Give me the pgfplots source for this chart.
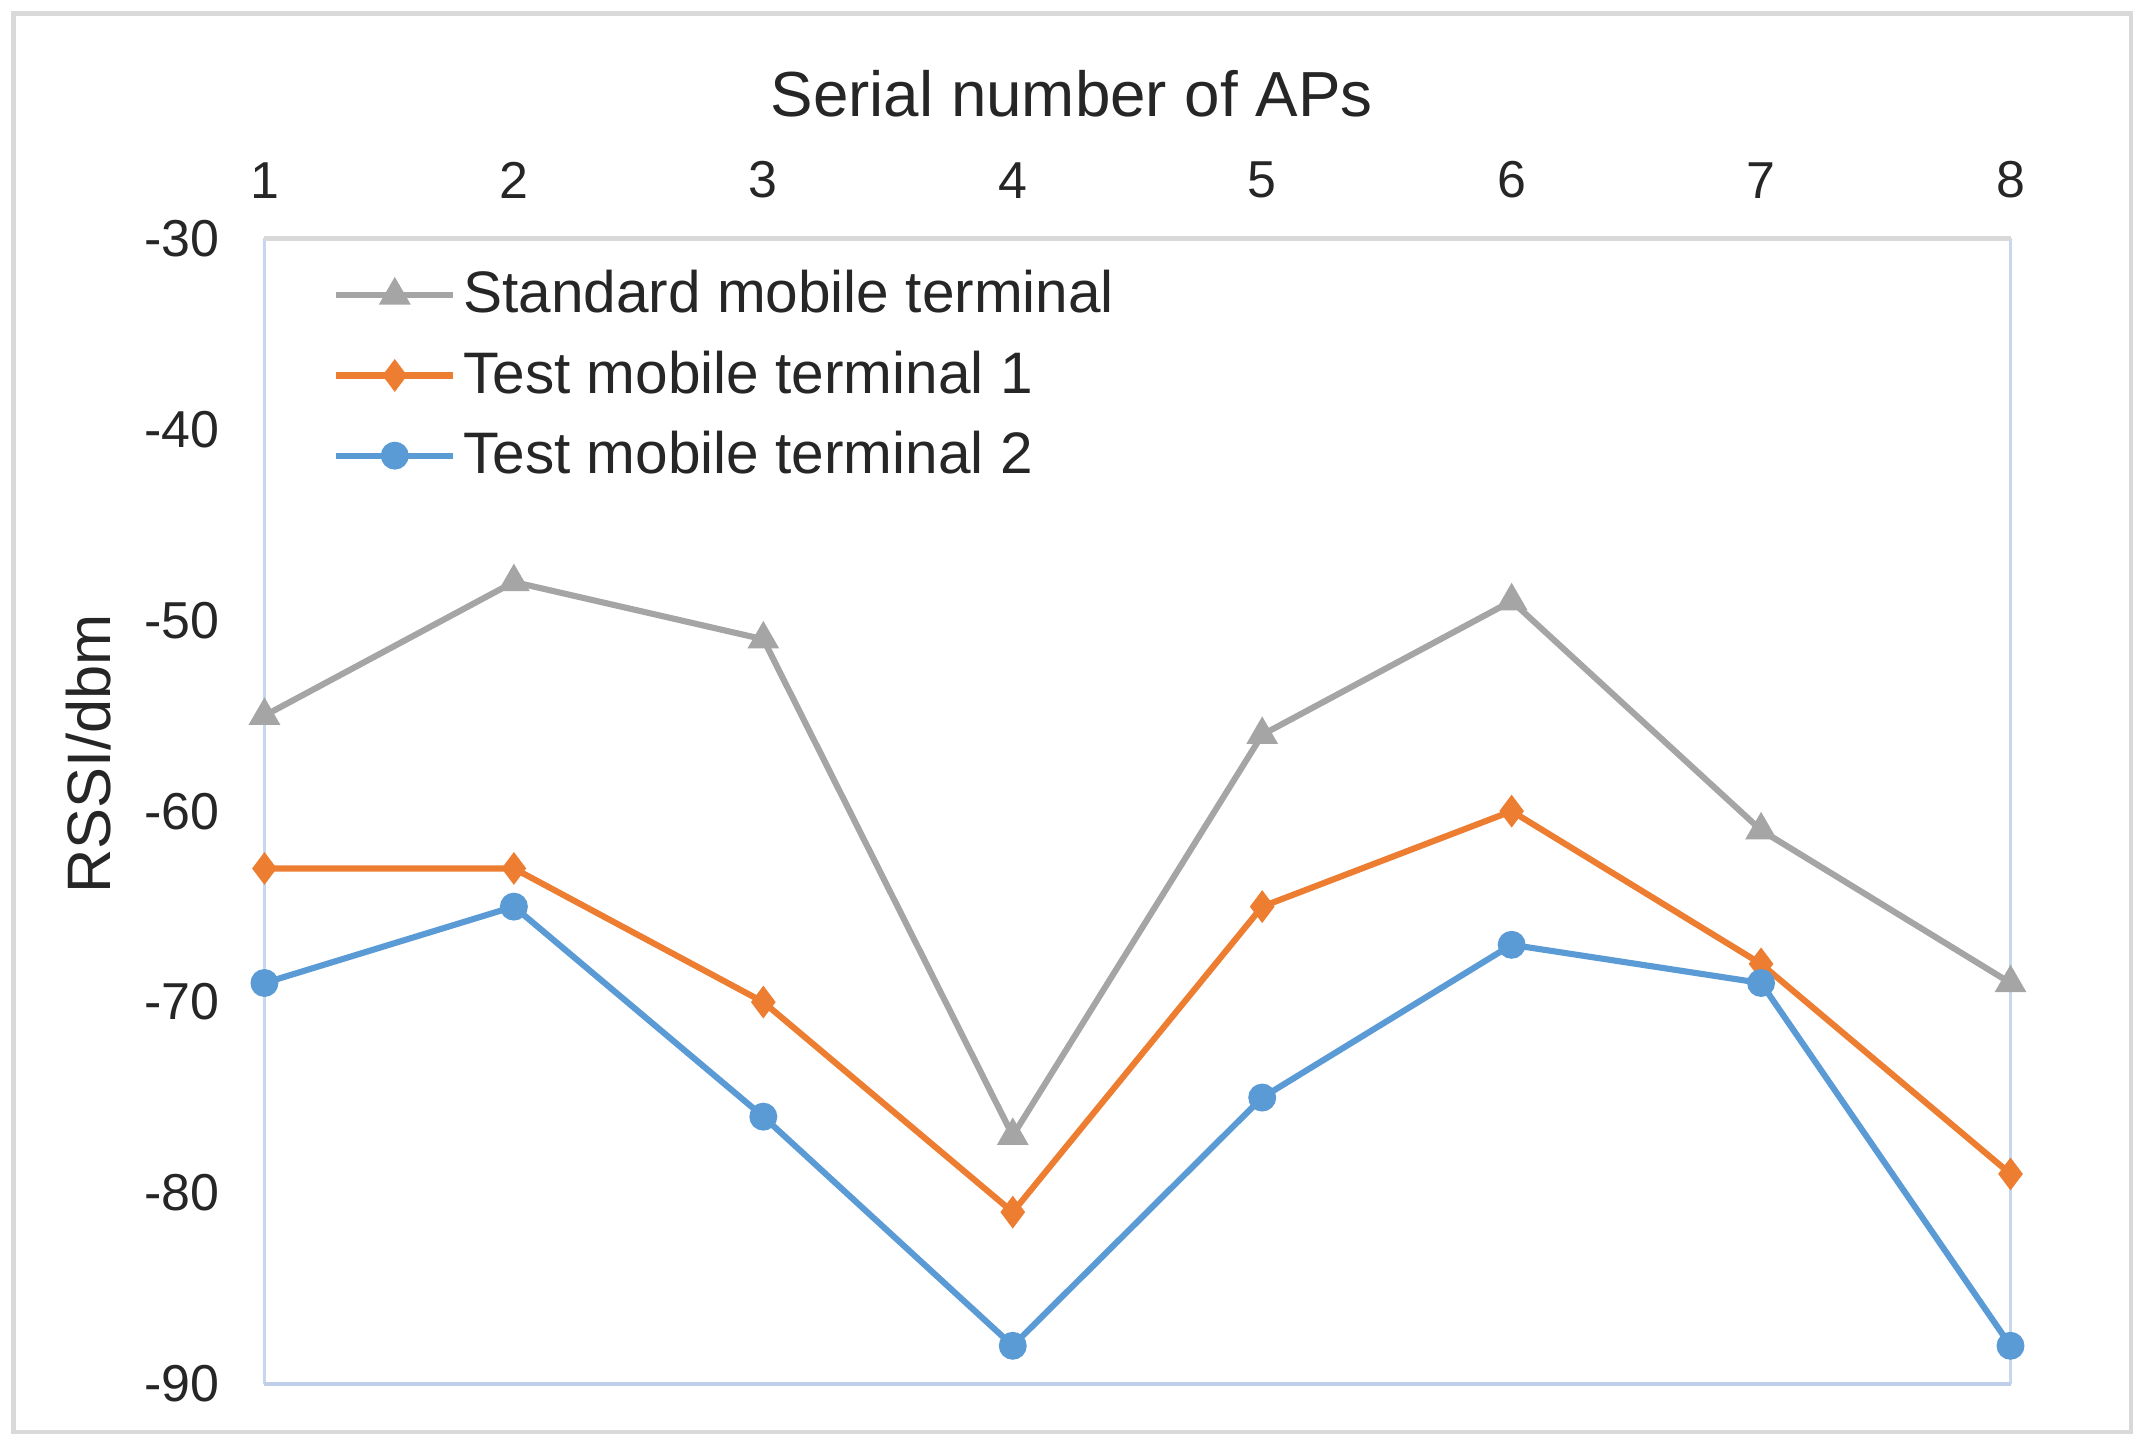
\documentclass[border=0pt]{standalone}
\usepackage{fontspec}
\setmainfont{Liberation Sans}
\usepackage{pgfplots}
\pgfplotsset{compat=1.18}
\definecolor{sgray}{HTML}{A5A5A5}
\definecolor{sorange}{HTML}{ED7D31}
\definecolor{sblue}{HTML}{5B9BD5}
\definecolor{framegray}{HTML}{D9D9D9}
\definecolor{plotblue}{HTML}{B4C7E7}
\definecolor{plotside}{HTML}{C8D7F0}

\begin{document}
\begin{tikzpicture}
\begin{axis}[
  scale only axis, width=13.0cm, height=8.53cm,
  xmin=1, xmax=8, ymin=-90, ymax=-30,
  xtick={1,2,3,4,5,6,7,8}, xticklabels={1,2,3,4,5,6,7,8},
  xticklabel pos=upper,
  ytick={-90,-80,-70,-60,-50,-40,-30},
  yticklabels={-90,-80,-70,-60,-50,-40,-30},
  separate axis lines, axis line style={draw=none}, major tick length=0pt,
  tick label style={font=\fontsize{11}{13}\selectfont, text=black!85},
  xticklabel style={yshift=5pt},
  yticklabel style={xshift=-6pt},
  clip=false,
  legend cell align=left,
  legend style={at={(rel axis cs:0,1)}, anchor=north west, xshift=0.40cm, yshift=-0.11cm,
    draw=none, fill=none, font=\fontsize{12.4}{14}\selectfont, row sep=3.5pt,
    nodes={inner sep=1.5pt, text=black!85}},
  legend image code/.code={\draw[mark repeat=2,mark phase=2,#1] plot coordinates {(0cm,0cm) (0.435cm,0cm) (0.87cm,0cm)};},
]
% plot area border: grey top, pale blue sides and bottom
\draw[plotside, line width=0.7pt] (rel axis cs:0,0) -- (rel axis cs:0,1);
\draw[plotside, line width=0.7pt] (rel axis cs:1,0) -- (rel axis cs:1,1);
\draw[plotblue!85, line width=0.9pt] (rel axis cs:0,0) -- (rel axis cs:1,0);
\draw[framegray, line width=1pt] (rel axis cs:0,1) -- (rel axis cs:1,1);

\addplot[sgray, line width=1.3pt, mark=triangle*, mark size=2.6pt, mark options={fill=sgray}]
  coordinates {(1,-55)(2,-48)(3,-51)(4,-77)(5,-56)(6,-49)(7,-61)(8,-69)};
\addlegendentry{Standard mobile terminal}
\addplot[sorange, line width=1.3pt, mark=diamond*, mark size=2.4pt, mark options={fill=sorange}]
  coordinates {(1,-63)(2,-63)(3,-70)(4,-81)(5,-65)(6,-60)(7,-68)(8,-79)};
\addlegendentry{Test mobile terminal 1}
\addplot[sblue, line width=1.3pt, mark=*, mark size=2.3pt, mark options={fill=sblue}]
  coordinates {(1,-69)(2,-65)(3,-76)(4,-88)(5,-75)(6,-67)(7,-69)(8,-88)};
\addlegendentry{Test mobile terminal 2}

\coordinate (ll) at (rel axis cs:0,0);
\node[font=\fontsize{13.5}{16}\selectfont, text=black!85] at ([yshift=1.08cm]rel axis cs:0.4623,1) {Serial number of APs};
\node[font=\fontsize{13}{16}\selectfont, text=black!85, rotate=90] at ([xshift=-1.31cm]rel axis cs:0,0.55) {RSSI/dbm};
\end{axis}
\draw[framegray, line width=1pt] ([xshift=-1.867cm,yshift=-0.357cm]ll) rectangle ([xshift=13.896cm,yshift=10.202cm]ll);
\pgfresetboundingbox
\path ([xshift=-1.969cm,yshift=-0.506cm]ll) rectangle ++(16cm,10.81cm);
\end{tikzpicture}
\end{document}
